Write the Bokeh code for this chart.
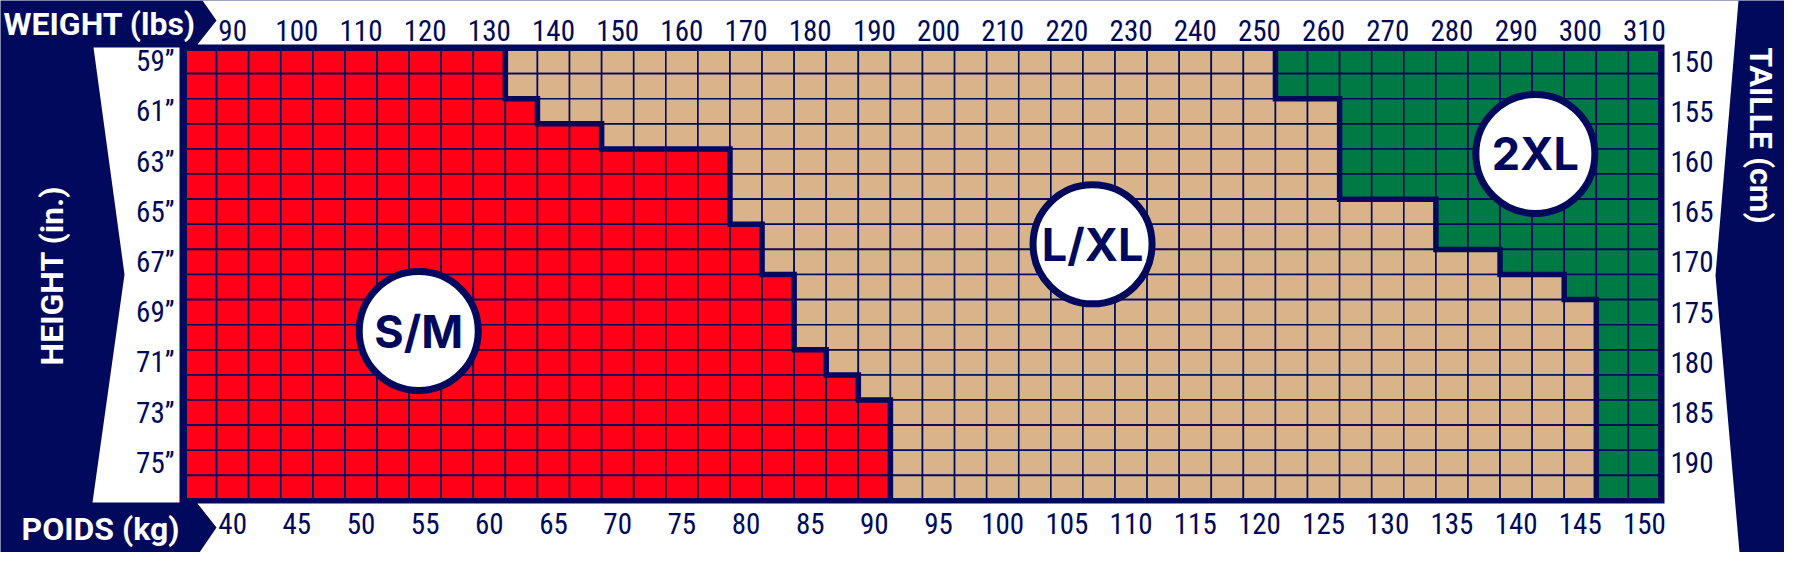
from math import pi
from bokeh.plotting import figure
from bokeh.models import (Range1d, LinearAxis, FixedTicker, PrintfTickFormatter, ColumnDataSource)
from bokeh.core.properties import value
from bokeh.embed import file_html
from bokeh.resources import INLINE

# ---------------- data ----------------
weight_lbs = [85, 90, 95, 100, 105, 110, 115, 120, 125, 130, 135, 140, 145, 150, 155, 160,
              165, 170, 175, 180, 185, 190, 195, 200, 205, 210, 215, 220, 225, 230, 235, 240,
              245, 250, 255, 260, 265, 270, 275, 280, 285, 290, 295, 300, 305, 310]
height_in = [59, 60, 61, 62, 63, 64, 65, 66, 67, 68, 69, 70, 71, 72, 73, 74, 75, 76]

lbs_ticks = [90, 100, 110, 120, 130, 140, 150, 160, 170, 180, 190, 200, 210, 220, 230,
             240, 250, 260, 270, 280, 290, 300, 310]
kg_ticks = [40, 45, 50, 55, 60, 65, 70, 75, 80, 85, 90, 95, 100, 105, 110, 115, 120,
            125, 130, 135, 140, 145, 150]
in_ticks = [59, 61, 63, 65, 67, 69, 71, 73, 75]
cm_ticks = [150, 155, 160, 165, 170, 175, 180, 185, 190]

# heaviest weight (lbs) of S/M, per height row
sm_max_lbs = [130, 130, 135, 145, 165, 165, 165, 170, 170, 175, 175, 175, 180, 185, 190, 190, 190, 190]
# lightest weight (lbs) of 2XL, per height row
xl2_min_lbs = [255, 255, 265, 265, 265, 265, 280, 280, 290, 300, 305, 305, 305, 305, 305, 305, 305, 305]

size_names = ["S/M", "L/XL", "2XL"]
size_colors = ["#ff0016", "#d9b38a", "#007a45"]
NAVY = "#00095c"

# ---------------- geometry: the grid occupies page pixels 192..1668 x 56..508 ----------------
GX0, GX1, GY0, GY1 = 192, 1668, 56, 508
x_lo, x_hi = weight_lbs[0] - 2.5, weight_lbs[-1] + 2.5      # grid edges in lbs
y_top, y_bot = height_in[0] - 0.5, height_in[-1] + 0.5     # grid edges in inches

def X(px):  # page pixel -> lbs
    return x_lo + (px - GX0) / (GX1 - GX0) * (x_hi - x_lo)

def Y(py):  # page pixel -> inches
    return y_top + (py - GY0) / (GY1 - GY0) * (y_bot - y_top)

kg_per_lb = (kg_ticks[-1] - kg_ticks[0]) / (lbs_ticks[-1] - lbs_ticks[0])
cm_per_in = (cm_ticks[-1] - cm_ticks[0]) / (in_ticks[-1] - in_ticks[0])
def KG(lb):
    return kg_ticks[0] + (lb - lbs_ticks[0]) * kg_per_lb
def CM(inch):
    return cm_ticks[0] + (inch - in_ticks[0]) * cm_per_in

W, H = 1784, 552
p = figure(width=W, height=H, output_backend="svg", toolbar_location=None,
           x_range=Range1d(X(8), X(8 + W)), y_range=Range1d(Y(8 + H), Y(8)),
           x_axis_location=None, y_axis_location=None, min_border=0)
p.min_border_left = p.min_border_right = p.min_border_top = p.min_border_bottom = 0
p.border_fill_color = NAVY
p.background_fill_color = NAVY
p.outline_line_color = None
p.xgrid.visible = False
p.ygrid.visible = False
p.extra_x_ranges = {"kg": Range1d(KG(X(8)), KG(X(8 + W)))}
p.extra_y_ranges = {"cm": Range1d(CM(Y(8 + H)), CM(Y(8)))}

# ---------------- white panels (decoration) ----------------
frame_px = [(210, 8), (1746, 8), (1723, 283), (1747, 560), (207, 560), (224, 535), (205, 511),
            (1672, 511), (1672, 52), (205, 52), (224, 28)]
left_px = [(101, 55), (187, 55), (187, 510), (100, 510), (132, 282)]
p.patches([[X(a) for a, b in frame_px], [X(a) for a, b in left_px]],
          [[Y(b) for a, b in frame_px], [Y(b) for a, b in left_px]],
          fill_color="white", line_color=None)

TITLE_FONT = "Roboto"
TICK_FONT = "Roboto Condensed"

titles = [("WEIGHT (lbs)", 11, 31, 0, "left"),
          ("POIDS (kg)", 29, 536, 0, "left"),
          ("HEIGHT (in.)", 59, 283, pi / 2, "center"),
          ("TAILLE (cm)", 1768, 143, -pi / 2, "center")]
for txt, x, y, ang, align in titles:
    p.text([X(x)], [Y(y)], text=[txt], angle=ang, text_align=align, text_baseline="middle",
           text_color="white", text_font=value(TITLE_FONT), text_font_style="bold",
           text_font_size="32px")

# ---------------- cells ----------------
cx, cy, cc = [], [], []
for i, h in enumerate(height_in):
    for w in weight_lbs:
        if w <= sm_max_lbs[i]:
            k = 0
        elif w >= xl2_min_lbs[i]:
            k = 2
        else:
            k = 1
        cx.append(w)
        cy.append(h)
        cc.append(size_colors[k])
src = ColumnDataSource(dict(x=cx, y=cy, c=cc))
p.rect(x="x", y="y", width=5, height=1, source=src, fill_color="c",
       line_color=NAVY, line_width=1.6)

# region boundaries (thick steps)
def step_line(bounds, offset):
    xs, ys = [], []
    for i, h in enumerate(height_in):
        xb = bounds[i] + offset
        xs += [xb, xb]
        ys += [h - 0.5, h + 0.5]
    return xs, ys

bx, by = step_line(sm_max_lbs, 2.5)
p.line(bx, by, line_color=NAVY, line_width=5.5, line_join="miter")
bx, by = step_line(xl2_min_lbs, -2.5)
p.line(bx, by, line_color=NAVY, line_width=5.5, line_join="miter")

# grid border
p.rect([(x_lo + x_hi) / 2], [(y_top + y_bot) / 2], width=x_hi - x_lo, height=y_bot - y_top,
       fill_color=None, line_color=NAVY, line_width=5)

# size badges
badge_x = [119.0, 224.0, 293.0]
badge_y = [69.75, 66.3, 62.7]
p.scatter(badge_x, badge_y, size=119, fill_color="white", line_color=NAVY, line_width=7)
p.text(badge_x, badge_y, text=size_names, text_font=value("Inter"), text_font_style="bold",
       text_font_size="45px", text_color=NAVY, text_align="center", text_baseline="middle")

# ---------------- axes ----------------
def style(ax, standoff):
    ax.axis_line_color = None
    ax.major_tick_line_color = None
    ax.minor_tick_line_color = None
    ax.major_tick_out = 0
    ax.major_tick_in = 0
    ax.major_label_text_font = TICK_FONT
    ax.major_label_text_font_size = "29px"
    ax.major_label_text_color = NAVY
    ax.major_label_standoff = standoff

ax_top = LinearAxis(ticker=FixedTicker(ticks=lbs_ticks), fixed_location=y_top)
style(ax_top, 8)
p.add_layout(ax_top, "above")

ax_bot = LinearAxis(x_range_name="kg", ticker=FixedTicker(ticks=kg_ticks), fixed_location=y_bot)
style(ax_bot, 12)
p.add_layout(ax_bot, "below")

ax_left = LinearAxis(ticker=FixedTicker(ticks=in_ticks), fixed_location=x_lo,
                     formatter=PrintfTickFormatter(format="%d\u201d"))
style(ax_left, 10)
p.add_layout(ax_left, "left")

ax_right = LinearAxis(y_range_name="cm", ticker=FixedTicker(ticks=cm_ticks), fixed_location=x_hi)
style(ax_right, 10)
p.add_layout(ax_right, "right")

open("out.html", "w").write(file_html(p, INLINE))
